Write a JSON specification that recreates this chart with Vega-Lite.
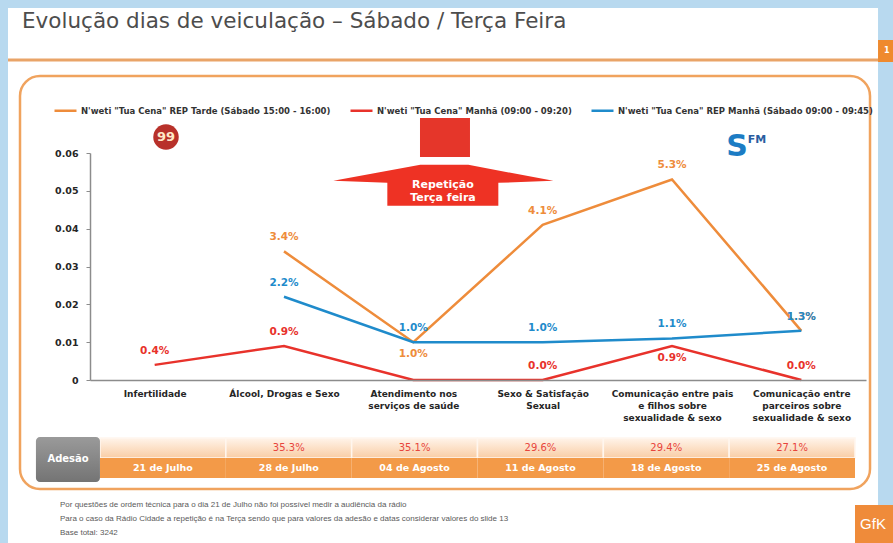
{
  "$schema": "https://vega.github.io/schema/vega-lite/v6.json",
  "width": 852,
  "height": 413,
  "autosize": {"type": "none"},
  "padding": {"left": 18, "top": 75, "right": 23, "bottom": 55},
  "background": "#B8D9EF",
  "config": {"font": "DejaVu Sans", "view": {"stroke": null}},
  "resolve": {"scale": {"x": "independent", "y": "independent"}},
  "layer": [
    {
      "data": {"values": [{}]},
      "layer": [
        {"mark": {"type": "rect", "fill": "#ffffff"},
         "encoding": {
           "x": {"datum": -1.134, "type": "quantitative", "scale": {"domain": [-0.5, 5.5], "range": [72, 848], "nice": false, "zero": false}, "axis": null},
           "x2": {"datum": 5.593},
           "y": {"datum": 0.09833, "type": "quantitative", "scale": {"domain": [0, 0.06], "range": [305, 78], "nice": false, "zero": false}, "axis": null},
           "y2": {"datum": -0.04308}}},
        {"mark": {"type": "rule", "stroke": "#E9A468", "strokeWidth": 3},
         "encoding": {
           "x": {"datum": -1.134, "type": "quantitative", "scale": {"domain": [-0.5, 5.5], "range": [72, 848], "nice": false, "zero": false}, "axis": null},
           "x2": {"datum": 5.593},
           "y": {"datum": 0.08458, "type": "quantitative", "scale": {"domain": [0, 0.06], "range": [305, 78], "nice": false, "zero": false}, "axis": null}}},
        {"mark": {"type": "rect", "fill": "#EF8A2E"},
         "encoding": {
           "x": {"datum": 5.593, "type": "quantitative", "scale": {"domain": [-0.5, 5.5], "range": [72, 848], "nice": false, "zero": false}, "axis": null},
           "x2": {"datum": 5.709},
           "y": {"datum": 0.08987, "type": "quantitative", "scale": {"domain": [0, 0.06], "range": [305, 78], "nice": false, "zero": false}, "axis": null},
           "y2": {"datum": 0.08405}}},
        {"mark": {"type": "text", "text": "1", "fill": "#ffffff", "fontSize": 8, "fontWeight": "bold", "align": "center", "baseline": "middle"},
         "encoding": {
           "x": {"datum": 5.66, "type": "quantitative", "scale": {"domain": [-0.5, 5.5], "range": [72, 848], "nice": false, "zero": false}, "axis": null},
           "y": {"datum": 0.0870, "type": "quantitative", "scale": {"domain": [0, 0.06], "range": [305, 78], "nice": false, "zero": false}, "axis": null}}},
        {"mark": {"type": "rect", "filled": false, "stroke": "#F0A35E", "strokeWidth": 2.5, "cornerRadius": 20},
         "encoding": {
           "x": {"datum": -1.0412, "type": "quantitative", "scale": {"domain": [-0.5, 5.5], "range": [72, 848], "nice": false, "zero": false}, "axis": null},
           "x2": {"datum": 5.531},
           "y": {"datum": 0.08035, "type": "quantitative", "scale": {"domain": [0, 0.06], "range": [305, 78], "nice": false, "zero": false}, "axis": null},
           "y2": {"datum": -0.02881}}},
        {"mark": {"type": "text", "text": "Evolução dias de veiculação – Sábado / Terça Feira", "align": "left", "baseline": "middle", "fontSize": 21.5, "fill": "#4D4D4D"},
         "encoding": {
           "x": {"datum": -1.0258, "type": "quantitative", "scale": {"domain": [-0.5, 5.5], "range": [72, 848], "nice": false, "zero": false}, "axis": null},
           "y": {"datum": 0.09463, "type": "quantitative", "scale": {"domain": [0, 0.06], "range": [305, 78], "nice": false, "zero": false}, "axis": null}}}
      ]
    },
    {
      "data": {"values": [
        {"series": "N'weti \"Tua Cena\" REP Tarde (Sábado 15:00 - 16:00)", "category": "Álcool, Drogas e Sexo", "value": 0.034},
        {"series": "N'weti \"Tua Cena\" REP Tarde (Sábado 15:00 - 16:00)", "category": "Atendimento nos serviços de saúde", "value": 0.010},
        {"series": "N'weti \"Tua Cena\" REP Tarde (Sábado 15:00 - 16:00)", "category": "Sexo & Satisfação Sexual", "value": 0.041},
        {"series": "N'weti \"Tua Cena\" REP Tarde (Sábado 15:00 - 16:00)", "category": "Comunicação entre pais e filhos sobre sexualidade & sexo", "value": 0.053},
        {"series": "N'weti \"Tua Cena\" REP Tarde (Sábado 15:00 - 16:00)", "category": "Comunicação entre parceiros sobre sexualidade & sexo", "value": 0.013},
        {"series": "N'weti \"Tua Cena\" Manhã (09:00 - 09:20)", "category": "Infertilidade", "value": 0.004},
        {"series": "N'weti \"Tua Cena\" Manhã (09:00 - 09:20)", "category": "Álcool, Drogas e Sexo", "value": 0.009},
        {"series": "N'weti \"Tua Cena\" Manhã (09:00 - 09:20)", "category": "Atendimento nos serviços de saúde", "value": 0.0},
        {"series": "N'weti \"Tua Cena\" Manhã (09:00 - 09:20)", "category": "Sexo & Satisfação Sexual", "value": 0.0},
        {"series": "N'weti \"Tua Cena\" Manhã (09:00 - 09:20)", "category": "Comunicação entre pais e filhos sobre sexualidade & sexo", "value": 0.009},
        {"series": "N'weti \"Tua Cena\" Manhã (09:00 - 09:20)", "category": "Comunicação entre parceiros sobre sexualidade & sexo", "value": 0.0},
        {"series": "N'weti \"Tua Cena\" REP Manhã (Sábado 09:00 - 09:45)", "category": "Álcool, Drogas e Sexo", "value": 0.022},
        {"series": "N'weti \"Tua Cena\" REP Manhã (Sábado 09:00 - 09:45)", "category": "Atendimento nos serviços de saúde", "value": 0.010},
        {"series": "N'weti \"Tua Cena\" REP Manhã (Sábado 09:00 - 09:45)", "category": "Sexo & Satisfação Sexual", "value": 0.010},
        {"series": "N'weti \"Tua Cena\" REP Manhã (Sábado 09:00 - 09:45)", "category": "Comunicação entre pais e filhos sobre sexualidade & sexo", "value": 0.011},
        {"series": "N'weti \"Tua Cena\" REP Manhã (Sábado 09:00 - 09:45)", "category": "Comunicação entre parceiros sobre sexualidade & sexo", "value": 0.013}
      ]},
      "encoding": {
        "x": {"field": "category", "type": "nominal", "sort": null,
              "scale": {"type": "point", "domain": ["Infertilidade", "Álcool, Drogas e Sexo", "Atendimento nos serviços de saúde", "Sexo & Satisfação Sexual", "Comunicação entre pais e filhos sobre sexualidade & sexo", "Comunicação entre parceiros sobre sexualidade & sexo"], "range": [72, 848], "padding": 0.5},
              "axis": {"orient": "bottom", "offset": -108, "zindex": 2, "title": null, "ticks": false, "domainColor": "#8C8C8C", "domainWidth": 1.5, "labelFontSize": 9, "labelFontWeight": "bold", "labelColor": "#262626", "labelAngle": 0, "labelPadding": 9, "labelLineHeight": 12, "labelOverlap": false, "labelLimit": 200,
                       "labelExpr": "datum.value == 'Atendimento nos serviços de saúde' ? ['Atendimento nos', 'serviços de saúde'] : datum.value == 'Sexo & Satisfação Sexual' ? ['Sexo & Satisfação', 'Sexual'] : datum.value == 'Comunicação entre pais e filhos sobre sexualidade & sexo' ? ['Comunicação entre pais', 'e filhos sobre', 'sexualidade & sexo'] : datum.value == 'Comunicação entre parceiros sobre sexualidade & sexo' ? ['Comunicação entre', 'parceiros sobre', 'sexualidade & sexo'] : datum.label"}},
        "y": {"field": "value", "type": "quantitative",
              "scale": {"domain": [0, 0.06], "range": [305, 78], "nice": false, "zero": false},
              "axis": {"orient": "left", "offset": -72, "zindex": 2, "title": null, "values": [0, 0.01, 0.02, 0.03, 0.04, 0.05, 0.06], "labelExpr": "datum.value == 0 ? '0' : format(datum.value, '.2f')", "grid": false, "domainColor": "#8C8C8C", "domainWidth": 1.5, "tickColor": "#8C8C8C", "tickSize": 4, "labelFontSize": 9.5, "labelFontWeight": "bold", "labelColor": "#262626", "labelPadding": 8}},
        "color": {"field": "series", "type": "nominal",
                  "scale": {"domain": ["N'weti \"Tua Cena\" REP Tarde (Sábado 15:00 - 16:00)", "N'weti \"Tua Cena\" Manhã (09:00 - 09:20)", "N'weti \"Tua Cena\" REP Manhã (Sábado 09:00 - 09:45)"], "range": ["#EE8C3B", "#E8322B", "#1F8BCB"]},
                  "legend": {"orient": "none", "legendX": 35, "legendY": 23, "direction": "horizontal", "title": null, "symbolType": "stroke", "symbolStrokeWidth": 2.5, "symbolSize": 484, "labelFontSize": 8.5, "labelFontWeight": "bold", "labelColor": "#333333", "labelLimit": 400, "columnPadding": 14, "labelOffset": 3, "padding": 0, "zindex": 2}}
      },
      "layer": [
        {"mark": {"type": "line", "strokeWidth": 2.5}, "encoding": {"order": {"value": null}}},
        {"transform": [{"filter": "!((indexof(datum.series, 'Tarde') >= 0 && datum.category == 'Atendimento nos serviços de saúde') || (indexof(datum.series, '09:20') >= 0 && datum.category == 'Comunicação entre pais e filhos sobre sexualidade & sexo') || (indexof(datum.series, '09:20') >= 0 && datum.category == 'Atendimento nos serviços de saúde'))"}],
         "mark": {"type": "text", "dy": -14, "fontSize": 10.5, "fontWeight": "bold", "baseline": "middle"},
         "encoding": {"text": {"field": "value", "type": "quantitative", "format": ".1%"}}},
        {"transform": [{"filter": "(indexof(datum.series, 'Tarde') >= 0 && datum.category == 'Atendimento nos serviços de saúde') || (indexof(datum.series, '09:20') >= 0 && datum.category == 'Comunicação entre pais e filhos sobre sexualidade & sexo')"}],
         "mark": {"type": "text", "dy": 12, "fontSize": 10.5, "fontWeight": "bold", "baseline": "middle"},
         "encoding": {"text": {"field": "value", "type": "quantitative", "format": ".1%"}}}
      ]
    },
    {
      "data": {"values": [
        {"dia": "21 de Julho", "adesao": null},
        {"dia": "28 de Julho", "adesao": 0.353},
        {"dia": "04 de Agosto", "adesao": 0.351},
        {"dia": "11 de Agosto", "adesao": 0.296},
        {"dia": "18 de Agosto", "adesao": 0.294},
        {"dia": "25 de Agosto", "adesao": 0.271}
      ]},
      "encoding": {
        "x": {"field": "dia", "type": "nominal", "sort": null,
              "scale": {"type": "band", "domain": ["21 de Julho", "28 de Julho", "04 de Agosto", "11 de Agosto", "18 de Agosto", "25 de Agosto"], "range": [82, 837], "paddingInner": 0, "paddingOuter": 0},
              "axis": null}
      },
      "layer": [
        {"mark": {"type": "rect", "fill": {"gradient": "linear", "x1": 0, "y1": 0, "x2": 0, "y2": 1, "stops": [{"offset": 0, "color": "#FFF4EA"}, {"offset": 1, "color": "#F9CDA5"}]}, "stroke": "#FFF6EE", "strokeWidth": 1.5},
         "encoding": {"y": {"datum": "Adesão", "type": "nominal", "scale": {"type": "band", "domain": ["Adesão", "Dia"], "range": [363, 403], "paddingInner": 0, "paddingOuter": 0}, "axis": null}}},
        {"mark": {"type": "rect", "fill": "#F39A48"},
         "encoding": {"y": {"datum": "Dia", "type": "nominal", "scale": {"type": "band", "domain": ["Adesão", "Dia"], "range": [363, 403], "paddingInner": 0, "paddingOuter": 0}, "axis": null}}},
        {"transform": [{"filter": "isValid(datum.adesao)"}],
         "mark": {"type": "text", "fill": "#E8453C", "fontSize": 10, "baseline": "middle"},
         "encoding": {"y": {"datum": "Adesão", "type": "nominal", "scale": {"type": "band", "domain": ["Adesão", "Dia"], "range": [363, 403], "paddingInner": 0, "paddingOuter": 0}, "axis": null},
                      "text": {"field": "adesao", "type": "quantitative", "format": ".1%"}}},
        {"mark": {"type": "text", "fill": "#ffffff", "fontSize": 9.5, "fontWeight": "bold", "baseline": "middle"},
         "encoding": {"y": {"datum": "Dia", "type": "nominal", "scale": {"type": "band", "domain": ["Adesão", "Dia"], "range": [363, 403], "paddingInner": 0, "paddingOuter": 0}, "axis": null},
                      "text": {"field": "dia", "type": "nominal"}}}
      ]
    },
    {
      "data": {"values": [{}]},
      "layer": [
        {"mark": {"type": "rect", "cornerRadius": 4, "fill": {"gradient": "linear", "x1": 0, "y1": 0, "x2": 0, "y2": 1, "stops": [{"offset": 0, "color": "#9A9A9A"}, {"offset": 1, "color": "#747474"}]}},
         "encoding": {
           "x": {"datum": -0.918, "type": "quantitative", "scale": {"domain": [-0.5, 5.5], "range": [72, 848], "nice": false, "zero": false}, "axis": null},
           "x2": {"datum": -0.423},
           "y": {"datum": -0.01507, "type": "quantitative", "scale": {"domain": [0, 0.06], "range": [305, 78], "nice": false, "zero": false}, "axis": null},
           "y2": {"datum": -0.02696}}},
        {"mark": {"type": "text", "text": "Adesão", "fill": "#ffffff", "fontSize": 10, "fontWeight": "bold", "align": "center", "baseline": "middle"},
         "encoding": {
           "x": {"datum": -0.67, "type": "quantitative", "scale": {"domain": [-0.5, 5.5], "range": [72, 848], "nice": false, "zero": false}, "axis": null},
           "y": {"datum": -0.0210, "type": "quantitative", "scale": {"domain": [0, 0.06], "range": [305, 78], "nice": false, "zero": false}, "axis": null}}},
        {"mark": {"type": "point", "shape": "M-0.8,-0.1L0.07,-0.26L0.55,-0.26L1.4,-0.1L0.85,-0.08L0.85,0.15L-0.26,0.15L-0.26,-0.08Z", "size": 40000, "filled": true, "fill": "#EE3224", "opacity": 1, "strokeWidth": 0},
         "encoding": {
           "x": {"datum": 2.0, "type": "quantitative", "scale": {"domain": [-0.5, 5.5], "range": [72, 848], "nice": false, "zero": false}, "axis": null},
           "y": {"datum": 0.05, "type": "quantitative", "scale": {"domain": [0, 0.06], "range": [305, 78], "nice": false, "zero": false}, "axis": null}}},
        {"mark": {"type": "text", "text": ["Repetição", "Terça feira"], "fill": "#ffffff", "fontSize": 11, "fontWeight": "bold", "align": "center", "baseline": "middle", "lineHeight": 13},
         "encoding": {
           "x": {"datum": 2.229, "type": "quantitative", "scale": {"domain": [-0.5, 5.5], "range": [72, 848], "nice": false, "zero": false}, "axis": null},
           "y": {"datum": 0.05154, "type": "quantitative", "scale": {"domain": [0, 0.06], "range": [305, 78], "nice": false, "zero": false}, "axis": null}}},
        {"mark": {"type": "rect", "fill": "#E5362A"},
         "encoding": {
           "x": {"datum": 2.0515, "type": "quantitative", "scale": {"domain": [-0.5, 5.5], "range": [72, 848], "nice": false, "zero": false}, "axis": null},
           "x2": {"datum": 2.438},
           "y": {"datum": 0.06925, "type": "quantitative", "scale": {"domain": [0, 0.06], "range": [305, 78], "nice": false, "zero": false}, "axis": null},
           "y2": {"datum": 0.05894}}},
        {"mark": {"type": "point", "shape": "circle", "size": 650, "filled": true, "fill": "#B8312A", "opacity": 1, "strokeWidth": 0},
         "encoding": {
           "x": {"datum": 0.0876, "type": "quantitative", "scale": {"domain": [-0.5, 5.5], "range": [72, 848], "nice": false, "zero": false}, "axis": null},
           "y": {"datum": 0.0642, "type": "quantitative", "scale": {"domain": [0, 0.06], "range": [305, 78], "nice": false, "zero": false}, "axis": null}}},
        {"mark": {"type": "text", "text": "99", "fill": "#FFE9C8", "fontSize": 13, "fontWeight": "bold", "align": "center", "baseline": "middle"},
         "encoding": {
           "x": {"datum": 0.0876, "type": "quantitative", "scale": {"domain": [-0.5, 5.5], "range": [72, 848], "nice": false, "zero": false}, "axis": null},
           "y": {"datum": 0.0642, "type": "quantitative", "scale": {"domain": [0, 0.06], "range": [305, 78], "nice": false, "zero": false}, "axis": null}}},
        {"mark": {"type": "text", "text": "S", "fill": "#1C7CC4", "fontSize": 30, "fontWeight": "bold", "align": "center", "baseline": "middle"},
         "encoding": {
           "x": {"datum": 4.5026, "type": "quantitative", "scale": {"domain": [-0.5, 5.5], "range": [72, 848], "nice": false, "zero": false}, "axis": null},
           "y": {"datum": 0.06159, "type": "quantitative", "scale": {"domain": [0, 0.06], "range": [305, 78], "nice": false, "zero": false}, "axis": null}}},
        {"mark": {"type": "text", "text": "FM", "fill": "#2A5D9F", "fontSize": 11, "fontWeight": "bold", "align": "center", "baseline": "middle"},
         "encoding": {
           "x": {"datum": 4.657, "type": "quantitative", "scale": {"domain": [-0.5, 5.5], "range": [72, 848], "nice": false, "zero": false}, "axis": null},
           "y": {"datum": 0.06344, "type": "quantitative", "scale": {"domain": [0, 0.06], "range": [305, 78], "nice": false, "zero": false}, "axis": null}}},
        {"mark": {"type": "rect", "fill": "#EF8B3A"},
         "encoding": {
           "x": {"datum": 5.415, "type": "quantitative", "scale": {"domain": [-0.5, 5.5], "range": [72, 848], "nice": false, "zero": false}, "axis": null},
           "x2": {"datum": 5.709},
           "y": {"datum": -0.03304, "type": "quantitative", "scale": {"domain": [0, 0.06], "range": [305, 78], "nice": false, "zero": false}, "axis": null},
           "y2": {"datum": -0.04308}}},
        {"mark": {"type": "text", "text": "GfK", "fill": "#ffffff", "fontSize": 15, "font": "Liberation Sans", "align": "center", "baseline": "middle"},
         "encoding": {
           "x": {"datum": 5.554, "type": "quantitative", "scale": {"domain": [-0.5, 5.5], "range": [72, 848], "nice": false, "zero": false}, "axis": null},
           "y": {"datum": -0.0381, "type": "quantitative", "scale": {"domain": [0, 0.06], "range": [305, 78], "nice": false, "zero": false}, "axis": null}}},
        {"mark": {"type": "text", "text": ["Por questões de ordem técnica para o dia 21 de Julho não foi possível medir a audiência da rádio", "Para o caso da Rádio Cidade a repetição é na Terça sendo que para valores da adesão e datas considerar  valores do slide 13", "Base total: 3242"], "fill": "#5A5A5A", "fontSize": 8, "font": "Liberation Sans", "align": "left", "baseline": "middle", "lineHeight": 14},
         "encoding": {
           "x": {"datum": -0.732, "type": "quantitative", "scale": {"domain": [-0.5, 5.5], "range": [72, 848], "nice": false, "zero": false}, "axis": null},
           "y": {"datum": -0.03304, "type": "quantitative", "scale": {"domain": [0, 0.06], "range": [305, 78], "nice": false, "zero": false}, "axis": null}}}
      ]
    }
  ]
}
